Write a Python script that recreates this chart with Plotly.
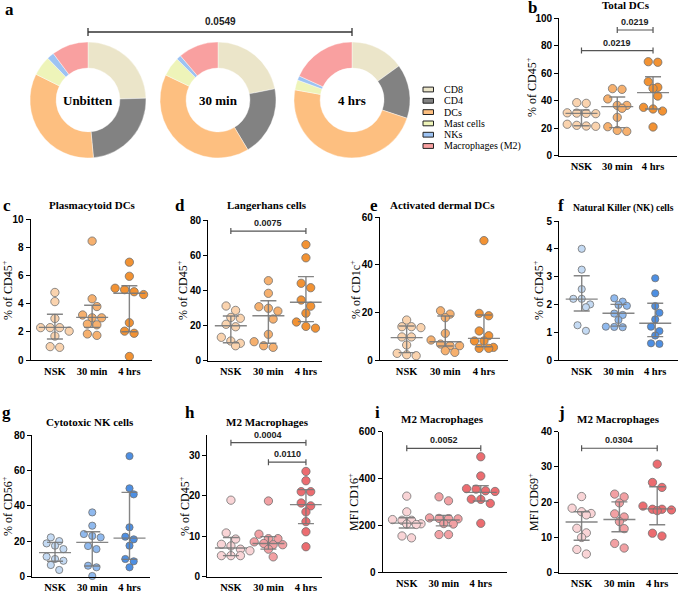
import plotly.graph_objects as go

W, H = 681, 591
def PX(x): return x / W
def PY(y): return 1 - y / H

# ---------------- DATA ----------------
groups = ["NSK", "30 min", "4 hrs"]

# Panel a: composition of CD45+ cells (%)
cell_types = ["CD8", "CD4", "DCs", "Mast cells", "NKs", "Macrophages (M2)"]
donut_labels = ["Unbitten", "30 min", "4 hrs"]
comp_unbitten = [24.5, 24.0, 33.8, 5.5, 2.0, 10.2]
comp_30min = [21.9, 19.5, 40.7, 5.4, 1.3, 11.2]
comp_4hrs = [15.0, 15.1, 47.7, 2.8, 1.2, 18.2]
donut_p = "0.0549"

# Panel b: Total DCs
b_nsk = [38.1, 38.6, 30.8, 31.2, 31.0, 30.6, 21.4, 22.9, 21.6, 22.1]
b_30 = [48.3, 48.8, 41.3, 36.6, 36.6, 34.5, 27.9, 21.1, 17.7, 18.4]
b_4h = [68.0, 68.4, 53.9, 49.8, 49.0, 43.4, 35.2, 34.0, 32.5, 20.9]
b_med = [30.8, 35.7, 45.9]; b_q1 = [21.8, 20.4, 34.0]; b_q3 = [33.3, 42.7, 57.5]
b_ticks = [0, 20, 40, 60, 80, 100]
b_brackets = [(1, 2, "0.0219", 91.5), (0, 2, "0.0219", 76.5)]

# Panel c: Plasmacytoid DCs
c_nsk = [4.8, 4.15, 2.95, 2.3, 2.3, 2.3, 2.05, 1.7, 0.95, 0.9]
c_30 = [8.45, 4.35, 3.8, 3.2, 3.0, 3.0, 2.55, 2.5, 1.85, 1.75]
c_4h = [6.95, 5.95, 5.1, 5.0, 4.85, 4.65, 2.65, 2.05, 1.9, 0.25]
c_med = [2.32, 3.03, 4.74]; c_q1 = [1.49, 2.32, 2.01]; c_q3 = [3.25, 3.89, 5.28]
c_ticks = [0, 2, 4, 6, 8, 10]

# Panel d: Langerhans cells
d_nsk = [31.1, 28.6, 24.6, 24.1, 20.7, 19.3, 13.3, 11.2, 9.9, 8.5]
d_30 = [45.5, 38.3, 30.7, 29.8, 28.2, 23.7, 15.0, 10.8, 8.5, 7.6]
d_4h = [66.0, 58.5, 44.0, 41.5, 34.5, 31.0, 27.0, 22.0, 19.5, 18.5]
d_med = [19.9, 25.6, 33.2]; d_q1 = [10.2, 9.9, 22.2]; d_q3 = [25.4, 34.1, 47.8]
d_ticks = [0, 20, 40, 60, 80]
d_brackets = [(0, 2, "0.0075", 73.7)]

# Panel e: Activated dermal DCs
e_nsk = [16.8, 14.0, 14.0, 13.6, 9.7, 9.7, 6.3, 2.8, 2.2, 1.8]
e_30 = [20.7, 19.3, 17.8, 11.2, 8.4, 6.7, 6.0, 6.0, 3.9, 3.2]
e_4h = [50.2, 19.6, 18.6, 12.2, 10.2, 8.0, 8.0, 5.3, 4.9, 4.9]
e_med = [9.4, 7.7, 9.1]; e_q1 = [3.1, 5.9, 5.6]; e_q3 = [14.3, 18.5, 18.9]
e_ticks = [0, 20, 40, 60]

# Panel f: NK cells
f_nsk = [4.0, 3.25, 2.55, 2.2, 2.2, 2.0, 1.9, 1.25, 1.05]
f_30 = [2.22, 2.1, 1.98, 1.95, 1.67, 1.62, 1.44, 1.2, 1.19, 1.18]
f_4h = [2.94, 2.4, 1.94, 1.7, 1.46, 1.2, 1.04, 0.88, 0.6, 0.58]
f_med = [2.19, 1.68, 1.32]; f_q1 = [1.76, 1.22, 0.84]; f_q3 = [3.03, 2.0, 2.04]
f_ticks = [0, 1, 2, 3, 4, 5]

# Panel g: Cytotoxic NK cells
g_nsk = [22.2, 20.1, 18.8, 17.5, 15.6, 11.3, 10.0, 9.0, 6.6, 3.8]
g_30 = [36.3, 28.8, 24.1, 23.0, 22.2, 17.3, 15.6, 6.2, 5.3, 0.4]
g_4h = [68.1, 49.9, 46.5, 27.9, 22.6, 21.1, 17.5, 10.0, 8.7, 5.3]
g_med = [13.6, 19.4, 21.8]; g_q1 = [8.7, 6.0, 9.8]; g_q3 = [19.4, 25.4, 47.6]
g_ticks = [0, 20, 40, 60, 80]

# Panel h: M2 macrophages (% of CD45+)
h_nsk = [18.9, 10.8, 9.3, 8.0, 7.6, 6.8, 6.4, 5.2, 5.2, 5.2]
h_30 = [18.7, 10.5, 9.4, 9.4, 8.6, 8.2, 7.9, 7.9, 6.8, 4.9]
h_4h = [26.0, 23.7, 21.0, 21.0, 18.2, 17.5, 16.0, 13.6, 11.1, 7.4]
h_med = [7.1, 8.2, 17.8]; h_q1 = [5.2, 6.8, 13.1]; h_q3 = [9.7, 9.9, 21.5]
h_ticks = [0, 10, 20, 30]
h_brackets = [(0, 2, "0.0004", 33.1), (1, 2, "0.0110", 28.3)]

# Panel i: M2 macrophages MFI CD16+
i_nsk = [325, 258, 225, 222, 222, 207, 206, 204, 155, 147]
i_30 = [322, 305, 232, 230, 229, 228, 208, 206, 161, 161]
i_4h = [493, 411, 357, 355, 348, 345, 312, 311, 294, 209]
i_med = [210, 223, 341]; i_q1 = [189, 198, 304]; i_q3 = [233, 243, 370]
i_ticks = [0, 200, 400, 600]
i_brackets = [(0, 2, "0.0052", 529)]

# Panel j: M2 macrophages MFI CD69+
j_nsk = [21.6, 18.3, 17.3, 16.8, 16.4, 12.6, 11.3, 10.0, 6.6, 5.3]
j_30 = [22.3, 21.5, 19.8, 16.7, 15.8, 14.5, 12.5, 8.3, 7.0]
j_4h = [30.8, 25.6, 24.2, 18.9, 18.0, 18.0, 17.8, 17.6, 11.2, 10.4]
j_med = [14.4, 15.1, 18.1]; j_q1 = [9.2, 11.6, 13.6]; j_q3 = [17.3, 20.1, 24.4]
j_ticks = [0, 10, 20, 30, 40]
j_brackets = [(0, 2, "0.0304", 35.3)]

# ---------------- STYLE ----------------
donut_colors = ["#EBE5C9", "#828282", "#FDBF80", "#EEF4B9", "#9DC3F3", "#F9A0A0"]
orange = ["#FAD3AE", "#F6B06E", "#F29233"]
blue = ["#C4DAF3", "#8FB9EE", "#4D8FE3"]
pink = ["#F9D4D6", "#F2A0A3", "#EC6C70"]
SERIF = "Liberation Serif"
SANS = "Liberation Sans"

panels = [
    dict(letter="b", title="Total DCs", ytitle="% of CD45<sup>+</sup>",
         vals=(b_nsk, b_30, b_4h), med=b_med, q1=b_q1, q3=b_q3, ticks=b_ticks,
         br=b_brackets, pal=orange, ymax=100,
         box=(559.3, 677, 18.3, 155.7), xr=(-0.62, 2.67), letterpos=(532, 8),
         titlepos=(626, 5), tsize=11, ytpos=(531, 87)),
    dict(letter="c", title="Plasmacytoid DCs", ytitle="% of CD45<sup>+</sup>",
         vals=(c_nsk, c_30, c_4h), med=c_med, q1=c_q1, q3=c_q3, ticks=c_ticks,
         br=[], pal=orange, ymax=10,
         box=(30.7, 151.7, 219.3, 360), xr=(-0.65, 2.6), letterpos=(7, 205),
         titlepos=(92, 205), tsize=11, ytpos=(7, 290)),
    dict(letter="d", title="Langerhans cells", ytitle="% of CD45<sup>+</sup>",
         vals=(d_nsk, d_30, d_4h), med=d_med, q1=d_q1, q3=d_q3, ticks=d_ticks,
         br=d_brackets, pal=orange, ymax=80,
         box=(208.3, 321.7, 220, 360.7), xr=(-0.6, 2.42), letterpos=(180, 205),
         titlepos=(267, 205), tsize=11, ytpos=(182, 290)),
    dict(letter="e", title="Activated dermal DCs", ytitle="% of CD1c<sup>+</sup>",
         vals=(e_nsk, e_30, e_4h), med=e_med, q1=e_q1, q3=e_q3, ticks=e_ticks,
         br=[], pal=orange, ymax=60,
         box=(380, 508.3, 217.3, 360), xr=(-0.69, 2.63), letterpos=(374, 205),
         titlepos=(443, 205), tsize=11, ytpos=(355, 290)),
    dict(letter="f", title="Natural Killer (NK) cells", ytitle="% of CD45<sup>+</sup>",
         vals=(f_nsk, f_30, f_4h), med=f_med, q1=f_q1, q3=f_q3, ticks=f_ticks,
         br=[], pal=blue, ymax=5,
         box=(559.3, 678, 221, 360), xr=(-0.61, 2.62), letterpos=(561, 205),
         titlepos=(623, 208), tsize=9.5, ytpos=(538, 290)),
    dict(letter="g", title="Cytotoxic NK cells", ytitle="% of CD56<sup>+</sup>",
         vals=(g_nsk, g_30, g_4h), med=g_med, q1=g_q1, q3=g_q3, ticks=g_ticks,
         br=[], pal=blue, ymax=80,
         box=(32.3, 150, 435, 576.7), xr=(-0.61, 2.55), letterpos=(6, 412),
         titlepos=(90, 422), tsize=11, ytpos=(7, 506)),
    dict(letter="h", title="M2 Macrophages", ytitle="% of CD45<sup>+</sup>",
         vals=(h_nsk, h_30, h_4h), med=h_med, q1=h_q1, q3=h_q3, ticks=h_ticks,
         br=h_brackets, pal=pink, ymax=35,
         box=(207.3, 321.7, 435, 576.7), xr=(-0.63, 2.42), letterpos=(190, 412),
         titlepos=(267, 422), tsize=11, ytpos=(184, 506)),
    dict(letter="i", title="M2 Macrophages", ytitle="MFI CD16<sup>+</sup>",
         vals=(i_nsk, i_30, i_4h), med=i_med, q1=i_q1, q3=i_q3, ticks=i_ticks,
         br=i_brackets, pal=pink, ymax=600,
         box=(382.7, 506.7, 431.7, 572.3), xr=(-0.65, 2.7), letterpos=(377, 412),
         titlepos=(443, 419), tsize=11, ytpos=(353, 502)),
    dict(letter="j", title="M2 Macrophages", ytitle="MFI CD69<sup>+</sup>",
         vals=(j_nsk, j_30, j_4h), med=j_med, q1=j_q1, q3=j_q3, ticks=j_ticks,
         br=j_brackets, pal=pink, ymax=40,
         box=(559.3, 678, 431.7, 572.7), xr=(-0.59, 2.55), letterpos=(561, 412),
         titlepos=(618, 419), tsize=11, ytpos=(533, 502)),
]

fig = go.Figure()
annotations = []
shapes = []
layout_axes = {}

def note(x, y, text, font, **kw):
    d = dict(x=PX(x), y=PY(y), xref="paper", yref="paper", text=text, showarrow=False,
             xanchor="center", yanchor="middle", font=font)
    d.update(kw)
    annotations.append(d)

# ---------------- PANEL a: donuts ----------------
R = 58
centers = [(88, 100), (218, 100), (352, 100)]
for comp, lab, (cx, cy) in zip([comp_unbitten, comp_30min, comp_4hrs], donut_labels, centers):
    fig.add_trace(go.Pie(
        values=comp, labels=cell_types, hole=0.55, sort=False, direction="clockwise",
        rotation=0, textinfo="none", showlegend=False,
        marker=dict(colors=donut_colors, line=dict(color="white", width=0.4)),
        domain=dict(x=[PX(cx - R), PX(cx + R)], y=[PY(cy + R), PY(cy - R)])))
    note(cx, cy, lab, dict(family=SERIF, size=13, color="black", weight="bold"))
bx0, bx1, by = centers[0][0], centers[2][0], 32
shapes.append(dict(type="line", xref="paper", yref="paper", x0=PX(bx0), x1=PX(bx1), y0=PY(by), y1=PY(by),
                   line=dict(color="#333333", width=1.3)))
for xx in (bx0, bx1):
    shapes.append(dict(type="line", xref="paper", yref="paper", x0=PX(xx), x1=PX(xx), y0=PY(by - 4), y1=PY(by + 4),
                       line=dict(color="#333333", width=1.3)))
note((bx0 + bx1) / 2, by - 10, donut_p, dict(family=SANS, size=10, color="#222", weight="bold"))
note(9, 9, "a", dict(family=SERIF, size=17, color="black", weight="bold"))
# manual legend
leg_x, leg_y0, leg_step = 423, 89.5, 11.3
for k, (name, col) in enumerate(zip(cell_types, donut_colors)):
    yy = leg_y0 + k * leg_step
    shapes.append(dict(type="rect", xref="paper", yref="paper", x0=PX(leg_x), x1=PX(leg_x + 10.5),
                       y0=PY(yy + 2.4), y1=PY(yy - 2.4), fillcolor=col, line=dict(color="#222", width=1)))
    note(leg_x + 18.5, yy, name, dict(family=SERIF, size=10, color="black"), xanchor="left")

# ---------------- scatter panels ----------------
def swarm(vals, ppu, step_units, ms):
    """Scatter-dot-plot layout: near-equal values share a centred row (max 4);
    a row lying close to the previous one is staggered by half a step."""
    order = sorted(range(len(vals)), key=lambda i: -vals[i])
    offs = [0.0] * len(vals)
    rows = []
    for i in order:
        if rows and len(rows[-1]) < 4 and abs(vals[rows[-1][0]] - vals[i]) * ppu < 0.8 * ms:
            rows[-1].append(i)
        else:
            rows.append([i])
    prev, prev_shift, sign = None, 0.0, 1
    for row in rows:
        n = len(row)
        shift = 0.0
        if prev is not None:
            dy = abs(vals[prev[-1]] - vals[row[0]]) * ppu
            if dy < ms and (n % 2) == (len(prev) % 2):
                shift = prev_shift + sign * step_units / 2 if prev_shift == 0 else 0.0
                sign = -sign
        for k, i in enumerate(row):
            offs[i] = (k - (n - 1) / 2) * step_units + shift
        prev, prev_shift = row, shift
    return offs

MS = 8.3
for idx, p in enumerate(panels, start=1):
    sfx = "" if idx == 1 else str(idx)
    xa, ya = "x" + sfx, "y" + sfx
    xl, xr_, yt, yb = p["box"]
    xmin, xmax = p["xr"]
    ymax = p["ymax"]
    ppu_y = (yb - yt) / ymax
    ppu_x = (xr_ - xl) / (xmax - xmin)
    ms = 7.2 if p["pal"] is blue else MS
    step = (ms + 1.2) / ppu_x
    for g, vals in enumerate(p["vals"]):
        offs = swarm(vals, ppu_y, step, ms)
        fig.add_trace(go.Scatter(
            x=[g + o for o in offs], y=vals, mode="markers", xaxis=xa, yaxis=ya,
            showlegend=False, cliponaxis=False,
            marker=dict(size=ms, color=p["pal"][g], line=dict(color="#707070", width=0.8))))
    mh, ch = 16 / ppu_x, 8 / ppu_x
    lx, ly = [], []
    for g in range(3):
        m, a, b = p["med"][g], p["q1"][g], p["q3"][g]
        lx += [g - mh, g + mh, None, g - ch, g + ch, None, g - ch, g + ch, None, g, g, None]
        ly += [m, m, None, a, a, None, b, b, None, a, b, None]
    fig.add_trace(go.Scatter(x=lx, y=ly, mode="lines", xaxis=xa, yaxis=ya, showlegend=False,
                             cliponaxis=False, line=dict(color="rgba(120,120,120,0.9)", width=1.4),
                             hoverinfo="skip"))
    for (g0, g1, txt, yv) in p["br"]:
        shapes.append(dict(type="line", xref=xa, yref=ya, x0=g0, x1=g1, y0=yv, y1=yv,
                           line=dict(color="#555555", width=1.2)))
        for gg in (g0, g1):
            shapes.append(dict(type="line", xref=xa, yref=ya, x0=gg, x1=gg, ysizemode="pixel",
                               yanchor=yv, y0=-3, y1=3, line=dict(color="#555555", width=1.2)))
        annotations.append(dict(x=(g0 + g1) / 2, y=yv, xref=xa, yref=ya, text=txt, showarrow=False,
                                xanchor="center", yanchor="middle", yshift=8,
                                font=dict(family=SANS, size=9, color="#222", weight="bold")))
    layout_axes["xaxis" + sfx] = dict(
        domain=[PX(xl), PX(xr_)], range=[xmin, xmax], anchor=ya, showline=True, linecolor="black",
        linewidth=1.3, tickvals=[0, 1, 2], ticktext=groups, ticks="outside", ticklen=1,
        tickcolor="rgba(0,0,0,0)", showgrid=False, zeroline=False, fixedrange=True, automargin=False,
        tickfont=dict(family=SERIF, size=10.5, color="black", weight="bold"))
    layout_axes["yaxis" + sfx] = dict(
        domain=[PY(yb), PY(yt)], range=[0, ymax], anchor=xa, showline=True, linecolor="black",
        linewidth=1.3, tickvals=p["ticks"], ticks="outside", ticklen=4, tickwidth=1.3,
        tickcolor="black", showgrid=False, zeroline=False, fixedrange=True, automargin=False,
        tickfont=dict(family=SANS, size=10, color="black", weight="bold"))
    tx, ty = p["titlepos"]
    note(tx, ty, p["title"], dict(family=SERIF, size=p["tsize"], color="black", weight="bold"))
    lxp, lyp = p["letterpos"]
    note(lxp, lyp, p["letter"], dict(family=SERIF, size=17, color="black", weight="bold"))
    yx, yy = p["ytpos"]
    note(yx, yy, p["ytitle"], dict(family=SERIF, size=12, color="black"), textangle=-90)

fig.update_layout(
    template="none",
    width=W, height=H, margin=dict(l=0, r=0, t=0, b=0, pad=0), autosize=False,
    paper_bgcolor="white", plot_bgcolor="rgba(0,0,0,0)", showlegend=False,
    annotations=annotations, shapes=shapes, **layout_axes)
fig.write_html("out.html", config={"displayModeBar": False},
               post_script="document.body.style.margin='0';document.documentElement.style.overflow='hidden';")
